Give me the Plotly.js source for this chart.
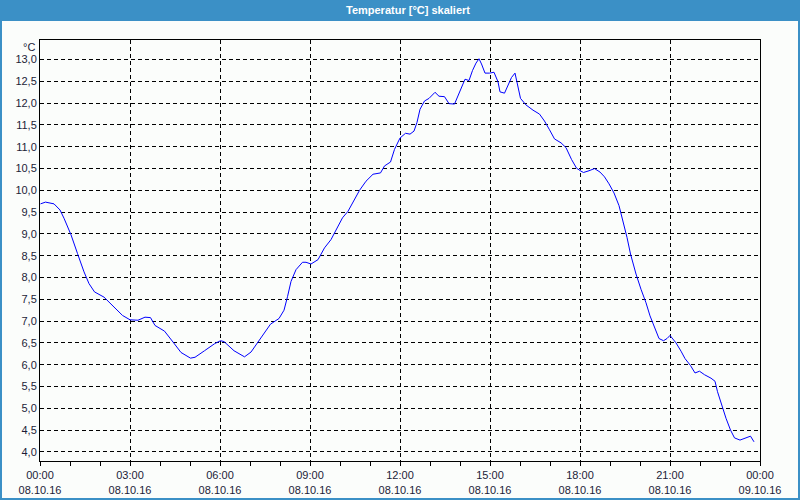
<!DOCTYPE html>
<html>
<head>
<meta charset="utf-8">
<script src="https://cdn.plot.ly/plotly-3.0.1.min.js"></script>
<style>
html,body{margin:0;padding:0;background:#fbfdfb;}
#chart{width:800px;height:500px;}
</style>
</head>
<body>
<div id="chart"></div>
<script>
const day = '2016-10-08';
const times = [
'00:01','00:11','00:28','00:40','00:48','01:02','01:15','01:28','01:38','01:49',
'02:08','02:28','02:45','03:00','03:16','03:30','03:41','03:50','04:09','04:26',
'04:42','05:01','05:10','05:29','05:49','06:01','06:08','06:28','06:49','07:02',
'07:18','07:41','07:58','08:08','08:15','08:22','08:32','08:45','08:52','09:02',
'09:16','09:29','09:42','09:52','10:05','10:16','10:29','10:39','10:52','11:06',
'11:21','11:29','11:41','11:49','12:00','12:05','12:11','12:20','12:28','12:34',
'12:40','12:49','12:58','13:10','13:18','13:29','13:38','13:49','13:56','14:05',
'14:10','14:18','14:25','14:32','14:38','14:43','14:50','14:59','15:08','15:16',
'15:20','15:29','15:35','15:43','15:50','15:54','16:01','16:12','16:26','16:39',
'16:49','16:59','17:09','17:22','17:32','17:43','17:53','18:02','18:07','18:18',
'18:29','18:40','18:49','18:58','19:08','19:18','19:25','19:34','19:41','19:52',
'20:02','20:12','20:20','20:28','20:38','20:47','20:54','21:00','21:12','21:22',
'21:30','21:41','21:50','21:59','22:09','22:22','22:30','22:35','22:42','22:52',
'23:01','23:09','23:20','23:31','23:41','23:48'
];
const temps = [
9.69,9.73,9.69,9.55,9.36,8.98,8.55,8.13,7.86,7.67,
7.55,7.32,7.13,7.03,7.02,7.09,7.08,6.90,6.77,6.52,
6.28,6.15,6.17,6.32,6.48,6.55,6.53,6.32,6.18,6.29,
6.56,6.93,7.06,7.25,7.56,7.91,8.18,8.35,8.35,8.31,
8.41,8.68,8.87,9.10,9.37,9.52,9.79,10.00,10.21,10.37,
10.40,10.56,10.65,10.94,11.20,11.26,11.31,11.29,11.36,11.56,
11.86,12.05,12.11,12.25,12.16,12.15,11.99,11.98,12.17,12.44,
12.55,12.52,12.75,12.92,13.02,12.90,12.69,12.69,12.71,12.49,
12.26,12.23,12.40,12.59,12.69,12.48,12.11,11.96,11.84,11.75,
11.59,11.39,11.18,11.09,10.98,10.71,10.51,10.44,10.41,10.45,
10.50,10.42,10.31,10.15,9.94,9.65,9.35,8.92,8.54,8.08,
7.73,7.42,7.12,6.88,6.60,6.55,6.60,6.67,6.50,6.31,
6.14,5.98,5.81,5.85,5.77,5.69,5.62,5.38,5.12,4.77,
4.50,4.32,4.27,4.32,4.36,4.23
];
const tickTimes = ['2016-10-08 00:00','2016-10-08 03:00','2016-10-08 06:00','2016-10-08 09:00','2016-10-08 12:00','2016-10-08 15:00','2016-10-08 18:00','2016-10-08 21:00','2016-10-09 00:00'];
const tickLabels = ['00:00<br>08.10.16','03:00<br>08.10.16','06:00<br>08.10.16','09:00<br>08.10.16','12:00<br>08.10.16','15:00<br>08.10.16','18:00<br>08.10.16','21:00<br>08.10.16','00:00<br>09.10.16'];
const titleText = '<b>Temperatur [°C] skaliert</b>';
const unitText = '°C';

const x = times.map(t => day + ' ' + t);
const font = 'Liberation Sans, Arial, sans-serif';
const bg = '#fbfdfb';
const barColor = '#3b90c6';
const textColor = '#1c1c38';

const trace = {
  x: x, y: temps, type: 'scatter', mode: 'lines',
  line: {color: '#0000ff', width: 1}, hoverinfo: 'skip'
};

const W = 720, H = 421;
const layout = {
  width: 800, height: 500,
  margin: {l: 40, r: 40, t: 40, b: 39, pad: 0},
  paper_bgcolor: bg, plot_bgcolor: bg,
  separators: ',.',
  showlegend: false,
  font: {family: font, size: 11, color: textColor},
  title: {text: titleText, font: {family: font, size: 11, color: '#ffffff'},
          xref: 'container', x: 0.51, xanchor: 'center', yref: 'container', y: 0.979, yanchor: 'middle'},
  xaxis: {
    type: 'date',
    range: ['2016-10-08 00:00', '2016-10-09 00:00'],
    tickmode: 'array', tickvals: tickTimes, ticktext: tickLabels,
    ticks: 'outside', ticklen: 4, tickcolor: '#000', tickwidth: 1,
    minor: {dtick: 3600000, ticks: 'outside', ticklen: 4, tickcolor: '#000', showgrid: false},
    showgrid: true, gridcolor: '#000', gridwidth: 1, griddash: '4px,3px',
    showline: true, linecolor: '#000', linewidth: 1, mirror: true,
    zeroline: false, tickfont: {family: font, size: 11, color: textColor}, fixedrange: true
  },
  yaxis: {
    range: [3.79, 13.45], dtick: 0.5, tick0: 4, tickformat: '.1f',
    ticks: '', showgrid: true, gridcolor: '#000', gridwidth: 1, griddash: '4px,3px',
    showline: true, linecolor: '#000', linewidth: 1, mirror: true,
    zeroline: false, tickfont: {family: font, size: 11, color: textColor}, fixedrange: true
  },
  shapes: [
    {type: 'rect', xref: 'paper', yref: 'paper', layer: 'below',
     x0: -40/W, x1: 1 + 40/W, y0: 1 + 19/H, y1: 1 + 40/H,
     fillcolor: barColor, line: {width: 0}},
    {type: 'rect', xref: 'paper', yref: 'paper', layer: 'above',
     x0: -39/W, x1: 1 + 39/W, y0: -38/H, y1: 1 + 40/H,
     fillcolor: 'rgba(0,0,0,0)', line: {color: barColor, width: 2}}
  ],
  annotations: [
    {text: unitText, xref: 'paper', yref: 'paper', x: 0, y: 1, xanchor: 'right', yanchor: 'top',
     xshift: -3, yshift: 1, showarrow: false, font: {family: font, size: 11, color: textColor}}
  ]
};

Plotly.newPlot('chart', [trace], layout, {displayModeBar: false, staticPlot: true});
</script>
</body>
</html>
